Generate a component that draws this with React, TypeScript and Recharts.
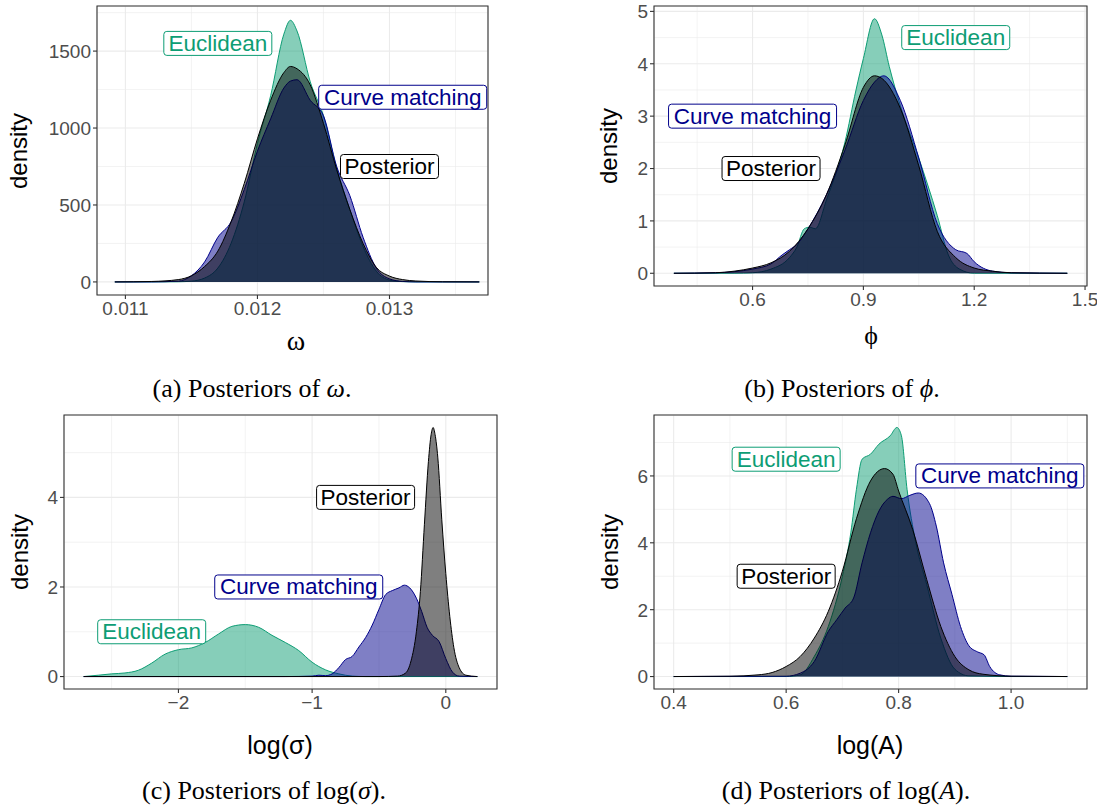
import React from 'react';
import {
  ComposedChart,
  Area,
  XAxis,
  YAxis,
  CartesianGrid,
  ReferenceLine,
  ReferenceArea,
  ReferenceDot,
} from 'recharts';

// ---------- colours ----------
const EUC = '#0d9d74';
const CM = '#00008b';
const POST = '#000000';
const SANS = "'Liberation Sans', Arial, Helvetica, sans-serif";
const SERIF = "'Liberation Serif', 'Times New Roman', Times, serif";

// ---------- (a) omega ----------
const omegaX = [0.01092, 0.0112, 0.0114, 0.0115, 0.0116, 0.0117, 0.0118, 0.0119, 0.012, 0.0121, 0.0122, 0.01225, 0.0123, 0.0124, 0.0125, 0.0126, 0.0127, 0.0128, 0.0129, 0.013, 0.0131, 0.0132, 0.0134, 0.01368];
const omegaEuclidean = [0, 0, 1, 5, 25, 90, 250, 520, 900, 1210, 1610, 1700, 1630, 1300, 1080, 740, 470, 230, 70, 12, 2, 0, 0, 0];
const omegaCurve = [0, 0, 5, 40, 130, 290, 390, 600, 850, 1060, 1260, 1305, 1314, 1180, 1080, 750, 560, 290, 90, 20, 3, 0, 0, 0];
const omegaPosterior = [0, 3, 15, 40, 100, 200, 390, 640, 930, 1180, 1360, 1400, 1385, 1280, 1030, 730, 470, 250, 95, 38, 15, 6, 1, 0];
const omegaXTicks = [0.011, 0.012, 0.013];
const omegaXTickLabels = ['0.011', '0.012', '0.013'];
const omegaXMinor = [0.0115, 0.0125, 0.0135];
const omegaYTicks = [0, 500, 1000, 1500];
const omegaYTickLabels = ['0', '500', '1000', '1500'];
const omegaYMinor = [250, 750, 1250, 1750];
const omegaXDomain = [0.010785, 0.013746];
const omegaYDomain = [-85, 1793];
const omegaLabelX = [0.0117, 0.0131, 0.013];
const omegaLabelY = [1550, 1200, 750];

// ---------- (b) phi ----------
const phiEuclideanX = [0.387, 0.55, 0.6, 0.65, 0.7, 0.72, 0.74, 0.755, 0.77, 0.8, 0.85, 0.88, 0.9, 0.93, 0.95, 0.97, 1.0, 1.05, 1.1, 1.13, 1.16, 1.2, 1.452];
const phiEuclidean = [0, 0, 0.01, 0.08, 0.3, 0.5, 0.85, 0.88, 0.85, 1.4, 2.5, 3.5, 4.1, 4.86, 4.55, 3.95, 3.2, 2.2, 1.1, 0.35, 0.08, 0, 0];
const phiCurveX = [0.387, 0.5, 0.55, 0.6, 0.65, 0.68, 0.7, 0.72, 0.75, 0.8, 0.85, 0.9, 0.93, 0.955, 1.0, 1.05, 1.1, 1.15, 1.18, 1.2, 1.25, 1.3, 1.452];
const phiCurve = [0, 0.01, 0.03, 0.08, 0.18, 0.35, 0.45, 0.55, 0.85, 1.5, 2.35, 3.3, 3.65, 3.77, 3.3, 2.2, 0.95, 0.45, 0.38, 0.22, 0.04, 0.01, 0];
const phiPosteriorX = [0.387, 0.5, 0.55, 0.6, 0.65, 0.7, 0.75, 0.8, 0.85, 0.9, 0.93, 0.95, 1.0, 1.05, 1.1, 1.15, 1.2, 1.25, 1.3, 1.452];
const phiPosterior = [0, 0.01, 0.04, 0.1, 0.2, 0.42, 0.85, 1.5, 2.45, 3.55, 3.77, 3.72, 3.15, 2.05, 0.8, 0.3, 0.1, 0.04, 0.01, 0];
const phiXTicks = [0.6, 0.9, 1.2, 1.5];
const phiXTickLabels = ['0.6', '0.9', '1.2', '1.5'];
const phiXMinor = [0.45, 0.75, 1.05, 1.35];
const phiYTicks = [0, 1, 2, 3, 4, 5];
const phiYTickLabels = ['0', '1', '2', '3', '4', '5'];
const phiYMinor = [0.5, 1.5, 2.5, 3.5, 4.5];
const phiXDomain = [0.3332, 1.5053];
const phiYDomain = [-0.243, 5.103];
const phiLabelX = [1.15, 0.6, 0.65];
const phiLabelY = [4.5, 3, 2];

// ---------- (c) log(sigma) ----------
const sigmaEuclideanX = [-2.709, -2.6, -2.5, -2.4, -2.3, -2.2, -2.1, -2.0, -1.9, -1.8, -1.7, -1.6, -1.5, -1.4, -1.3, -1.2, -1.1, -1.0, -0.9, -0.8, -0.7, -0.6, 0.236];
const sigmaEuclidean = [0, 0.03, 0.06, 0.08, 0.14, 0.3, 0.5, 0.6, 0.64, 0.76, 0.95, 1.12, 1.16, 1.1, 0.92, 0.76, 0.58, 0.32, 0.15, 0.06, 0.01, 0, 0];
const sigmaCurveX = [-2.709, -1.2, -1.0, -0.95, -0.9, -0.85, -0.8, -0.75, -0.7, -0.65, -0.6, -0.55, -0.5, -0.45, -0.4, -0.35, -0.31, -0.27, -0.22, -0.18, -0.14, -0.1, -0.05, 0.0, 0.05, 0.1, 0.236];
const sigmaCurve = [0, 0, 0.01, 0.03, 0.02, 0.06, 0.2, 0.38, 0.45, 0.66, 0.87, 1.15, 1.5, 1.83, 1.92, 1.98, 2.04, 1.98, 1.75, 1.45, 1.1, 0.92, 0.78, 0.4, 0.1, 0.01, 0];
const sigmaPosteriorX = [-2.709, -0.5, -0.36, -0.3, -0.26, -0.22, -0.19, -0.16, -0.13, -0.11, -0.095, -0.08, -0.06, -0.03, 0.0, 0.03, 0.06, 0.1, 0.15, 0.236];
const sigmaPosterior = [0, 0, 0.01, 0.08, 0.35, 1.0, 1.9, 3.4, 4.8, 5.4, 5.56, 5.4, 4.9, 3.5, 2.3, 1.34, 0.65, 0.2, 0.03, 0];
const sigmaXTicks = [-2, -1, 0];
const sigmaXTickLabels = ['\u22122', '\u22121', '0'];
const sigmaXMinor = [-2.5, -1.5, -0.5];
const sigmaYTicks = [0, 2, 4];
const sigmaYTickLabels = ['0', '2', '4'];
const sigmaYMinor = [1, 3, 5];
const sigmaXDomain = [-2.856, 0.383];
const sigmaYDomain = [-0.278, 5.84];
const sigmaLabelX = [-2.2, -1.1, -0.6];
const sigmaLabelY = [1, 2, 4];

// ---------- (d) log(A) ----------
const ampEuclideanX = [0.4, 0.6, 0.625, 0.65, 0.675, 0.7, 0.715, 0.725, 0.735, 0.75, 0.765, 0.785, 0.797, 0.805, 0.815, 0.83, 0.85, 0.875, 0.9, 0.925, 1.0, 1.1];
const ampEuclidean = [0, 0, 0.05, 0.6, 1.5, 3.0, 4.3, 5.6, 6.5, 6.65, 6.95, 7.2, 7.45, 7.2, 5.6, 4.05, 2.75, 1.15, 0.22, 0.02, 0, 0];
const ampCurveX = [0.4, 0.6, 0.625, 0.65, 0.675, 0.69, 0.705, 0.72, 0.735, 0.75, 0.765, 0.78, 0.79, 0.805, 0.82, 0.835, 0.855, 0.867, 0.88, 0.895, 0.91, 0.925, 0.94, 0.952, 0.962, 0.98, 1.0, 1.1];
const ampCurve = [0, 0.01, 0.1, 0.45, 1.35, 1.7, 2.05, 2.35, 3.4, 4.3, 4.95, 5.3, 5.39, 5.32, 5.42, 5.49, 5.17, 4.5, 3.4, 2.45, 1.5, 0.92, 0.74, 0.65, 0.3, 0.05, 0.01, 0];
const ampPosteriorX = [0.4, 0.5, 0.55, 0.575, 0.6, 0.625, 0.65, 0.675, 0.7, 0.725, 0.75, 0.775, 0.79, 0.8, 0.825, 0.85, 0.875, 0.9, 0.925, 0.95, 1.0, 1.1];
const ampPosterior = [0, 0.01, 0.05, 0.12, 0.3, 0.6, 1.15, 1.95, 3.15, 4.72, 5.85, 6.22, 6.05, 5.55, 4.4, 2.9, 1.5, 0.6, 0.2, 0.07, 0.01, 0];
const ampXTicks = [0.4, 0.6, 0.8, 1.0];
const ampXTickLabels = ['0.4', '0.6', '0.8', '1.0'];
const ampXMinor = [0.5, 0.7, 0.9, 1.1];
const ampYTicks = [0, 2, 4, 6];
const ampYTickLabels = ['0', '2', '4', '6'];
const ampYMinor = [1, 3, 5, 7];
const ampXDomain = [0.365, 1.135];
const ampYDomain = [-0.3725, 7.8225];
const ampLabelX = [0.6, 0.98, 0.6];
const ampLabelY = [6.5, 6, 3];

// ---------- shared ----------
const seriesNames = ['Euclidean', 'Curve matching', 'Posterior'];
const seriesColors = [EUC, CM, POST];
const labelWidths = [108, 168, 98];

const toPoints = (xs: number[], ys: number[]) => xs.map((x, i) => ({ x, y: ys[i] }));

const makeLabelShape = (text: string, color: string, w: number) => (props: any) => {
  const { cx, cy } = props;
  if (cx == null || cy == null || isNaN(cx) || isNaN(cy)) return <g />;
  return (
    <g>
      <rect x={cx - w / 2} y={cy - 12} width={w} height={24} rx={3} ry={3} fill="#ffffff" stroke={color} strokeWidth={1} />
      <text
        x={cx}
        y={cy}
        textAnchor="middle"
        dominantBaseline="central"
        fill={color}
        style={{ fontSize: 22.5, fontFamily: SANS }}
      >
        {text}
      </text>
    </g>
  );
};

type PanelProps = {
  left: number;
  top: number;
  width: number;
  height: number;
  margin: { top: number; right: number; bottom: number; left: number };
  yAxisWidth: number;
  xDomain: number[];
  yDomain: number[];
  xTicks: number[];
  xTickLabels: string[];
  yTicks: number[];
  yTickLabels: string[];
  xMinor: number[];
  yMinor: number[];
  xs: number[][];
  ys: number[][];
  labelX: number[];
  labelY: number[];
};

const lookup = (ticks: number[], labels: string[], v: number) => {
  const i = ticks.findIndex((t) => Math.abs(t - v) < 1e-9);
  return i >= 0 ? labels[i] : String(v);
};

const makeTick = (ticks: number[], labels: string[], isX: boolean) => (props: any) => {
  const { x, y, payload } = props;
  return (
    <text
      x={x}
      y={y}
      dy={isX ? '0.75em' : '0.36em'}
      textAnchor={isX ? 'middle' : 'end'}
      fill="#4d4d4d"
      style={{ fontSize: 19, fontFamily: SANS }}
    >
      {lookup(ticks, labels, payload.value)}
    </text>
  );
};

function Panel(p: PanelProps) {
  return (
    <div style={{ position: 'absolute', left: p.left, top: p.top }}>
      <ComposedChart width={p.width} height={p.height} margin={p.margin}>
        <CartesianGrid stroke="#ebebeb" strokeWidth={1.1} />
        {p.xMinor.map((v) => (
          <ReferenceLine key={'xm' + v} x={v} stroke="#ebebeb" strokeWidth={0.6} ifOverflow="hidden" zIndex={-90} />
        ))}
        {p.yMinor.map((v) => (
          <ReferenceLine key={'ym' + v} y={v} stroke="#ebebeb" strokeWidth={0.6} ifOverflow="hidden" zIndex={-90} />
        ))}
        <XAxis
          type="number"
          dataKey="x"
          domain={p.xDomain}
          ticks={p.xTicks}
          allowDataOverflow
          interval={0}
          axisLine={false}
          tickLine={{ stroke: '#333333', strokeWidth: 1.1 }}
          tickSize={4}
          tickMargin={2}
          height={25}
          tick={makeTick(p.xTicks, p.xTickLabels, true)}
        />
        <YAxis
          type="number"
          domain={p.yDomain}
          ticks={p.yTicks}
          allowDataOverflow
          interval={0}
          axisLine={false}
          tickLine={{ stroke: '#333333', strokeWidth: 1.1 }}
          tickSize={4}
          tickMargin={2}
          width={p.yAxisWidth}
          tick={makeTick(p.yTicks, p.yTickLabels, false)}
        />
        {seriesNames.map((name, i) => (
          <Area
            key={name}
            name={name}
            data={toPoints(p.xs[i], p.ys[i])}
            dataKey="y"
            type="monotone"
            baseValue={0}
            fill={seriesColors[i]}
            fillOpacity={0.5}
            stroke={seriesColors[i]}
            strokeWidth={1}
            dot={false}
            activeDot={false}
            isAnimationActive={false}
          />
        ))}
        <ReferenceArea
          x1={p.xDomain[0]}
          x2={p.xDomain[1]}
          y1={p.yDomain[0]}
          y2={p.yDomain[1]}
          fill="none"
          fillOpacity={0}
          stroke="#333333"
          strokeWidth={1.1}
          ifOverflow="visible"
        />
        {seriesNames.map((name, i) => (
          <ReferenceDot
            key={'lab' + name}
            x={p.labelX[i]}
            y={p.labelY[i]}
            r={0}
            ifOverflow="visible"
            shape={makeLabelShape(name, seriesColors[i], labelWidths[i])}
          />
        ))}
      </ComposedChart>
    </div>
  );
}

const abs = (x: number, y: number, extra: React.CSSProperties = {}): React.CSSProperties => ({
  position: 'absolute',
  left: x,
  top: y,
  transform: 'translate(-50%, -50%)',
  whiteSpace: 'nowrap',
  ...extra,
});

const densityStyle = (x: number, y: number) =>
  abs(x, y, {
    transform: 'translate(-50%, -50%) rotate(-90deg)',
    fontFamily: SANS,
    fontSize: 24,
    lineHeight: '24px',
    color: '#000',
  });

const captionStyle = (x: number, y: number) =>
  abs(x, y, { fontFamily: SERIF, fontSize: 26, lineHeight: '26px', color: '#000' });

export default function App() {
  return (
    <div
      style={{
        position: 'absolute',
        left: 0,
        top: 0,
        width: 1097,
        height: 812,
        overflow: 'hidden',
        background: '#ffffff',
      }}
    >
      <Panel
        left={0}
        top={0}
        width={500}
        height={320}
        margin={{ top: 6, right: 12, bottom: 0, left: 37 }}
        yAxisWidth={60}
        xDomain={omegaXDomain}
        yDomain={omegaYDomain}
        xTicks={omegaXTicks}
        xTickLabels={omegaXTickLabels}
        yTicks={omegaYTicks}
        yTickLabels={omegaYTickLabels}
        xMinor={omegaXMinor}
        yMinor={omegaYMinor}
        xs={[omegaX, omegaX, omegaX]}
        ys={[omegaEuclidean, omegaCurve, omegaPosterior]}
        labelX={omegaLabelX}
        labelY={omegaLabelY}
      />
      <Panel
        left={590}
        top={0}
        width={507}
        height={311}
        margin={{ top: 6, right: 10, bottom: 0, left: 24 }}
        yAxisWidth={40}
        xDomain={phiXDomain}
        yDomain={phiYDomain}
        xTicks={phiXTicks}
        xTickLabels={phiXTickLabels}
        yTicks={phiYTicks}
        yTickLabels={phiYTickLabels}
        xMinor={phiXMinor}
        yMinor={phiYMinor}
        xs={[phiEuclideanX, phiCurveX, phiPosteriorX]}
        ys={[phiEuclidean, phiCurve, phiPosterior]}
        labelX={phiLabelX}
        labelY={phiLabelY}
      />
      <Panel
        left={0}
        top={410}
        width={500}
        height={304}
        margin={{ top: 5, right: 3, bottom: 0, left: 24 }}
        yAxisWidth={40}
        xDomain={sigmaXDomain}
        yDomain={sigmaYDomain}
        xTicks={sigmaXTicks}
        xTickLabels={sigmaXTickLabels}
        yTicks={sigmaYTicks}
        yTickLabels={sigmaYTickLabels}
        xMinor={sigmaXMinor}
        yMinor={sigmaYMinor}
        xs={[sigmaEuclideanX, sigmaCurveX, sigmaPosteriorX]}
        ys={[sigmaEuclidean, sigmaCurve, sigmaPosterior]}
        labelX={sigmaLabelX}
        labelY={sigmaLabelY}
      />
      <Panel
        left={590}
        top={410}
        width={507}
        height={304}
        margin={{ top: 5, right: 10, bottom: 0, left: 24 }}
        yAxisWidth={40}
        xDomain={ampXDomain}
        yDomain={ampYDomain}
        xTicks={ampXTicks}
        xTickLabels={ampXTickLabels}
        yTicks={ampYTicks}
        yTickLabels={ampYTickLabels}
        xMinor={ampXMinor}
        yMinor={ampYMinor}
        xs={[ampEuclideanX, ampCurveX, ampPosteriorX]}
        ys={[ampEuclidean, ampCurve, ampPosterior]}
        labelX={ampLabelX}
        labelY={ampLabelY}
      />

      {/* y-axis titles */}
      <div style={densityStyle(19, 151)}>density</div>
      <div style={densityStyle(609, 146)}>density</div>
      <div style={densityStyle(20, 552)}>density</div>
      <div style={densityStyle(610, 552)}>density</div>

      {/* x-axis titles */}
      <div style={abs(296, 341, { fontFamily: SERIF, fontSize: 28, lineHeight: '28px' })}>ω</div>
      <div style={abs(871, 336, { fontFamily: SERIF, fontSize: 26, lineHeight: '26px' })}>ϕ</div>
      <div style={abs(280, 745, { fontFamily: SANS, fontSize: 25, lineHeight: '25px' })}>log(σ)</div>
      <div style={abs(870, 745, { fontFamily: SANS, fontSize: 25, lineHeight: '25px' })}>log(A)</div>

      {/* captions */}
      <div style={captionStyle(252, 389)}>
        (a) Posteriors of <i>ω</i>.
      </div>
      <div style={captionStyle(842, 389)}>
        (b) Posteriors of <i>ϕ</i>.
      </div>
      <div style={captionStyle(264, 791)}>
        (c) Posteriors of log(<i>σ</i>).
      </div>
      <div style={captionStyle(846, 791)}>
        (d) Posteriors of log(<i>A</i>).
      </div>
    </div>
  );
}
